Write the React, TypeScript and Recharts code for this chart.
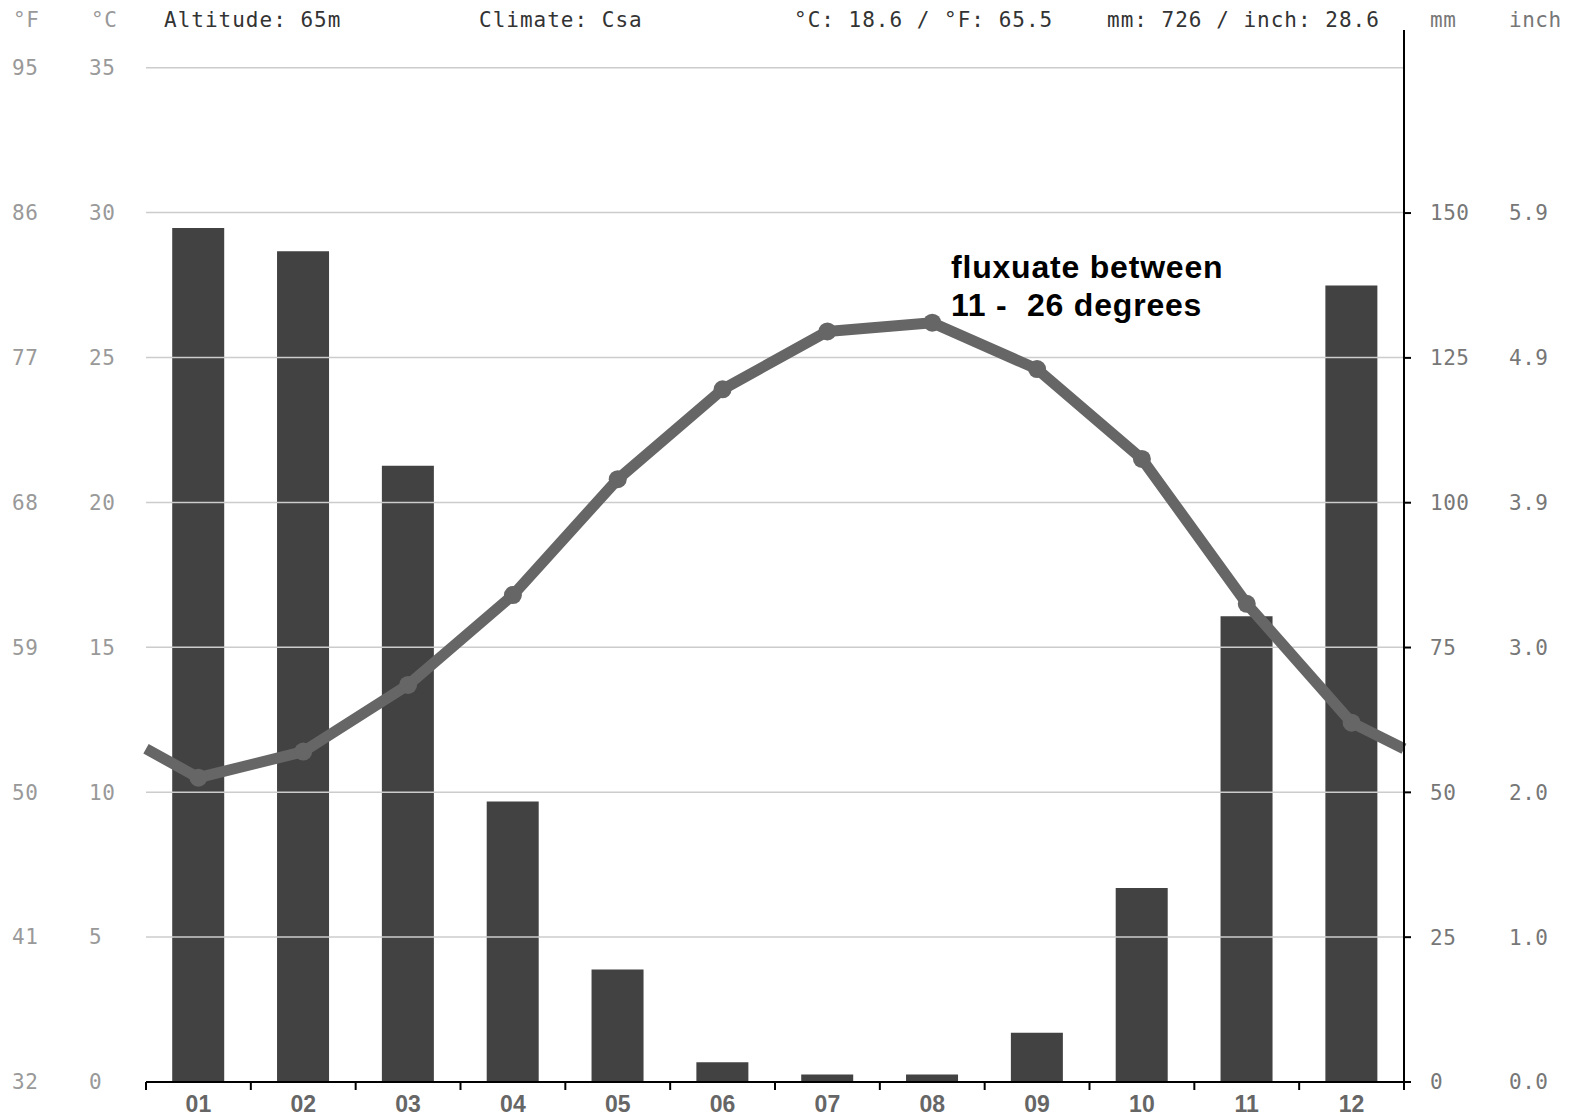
import { ComposedChart, Bar, Line, XAxis, YAxis, ReferenceLine } from 'recharts';

const months = ['01', '02', '03', '04', '05', '06', '07', '08', '09', '10', '11', '12'];
const precipMm = [147.4, 143.4, 106.4, 48.4, 19.4, 3.4, 1.3, 1.3, 8.5, 33.5, 80.4, 137.5];
const tempC = [10.5, 11.4, 13.7, 16.8, 20.8, 23.9, 25.9, 26.2, 24.6, 21.5, 16.5, 12.4];
// value where the line meets the chart edges (Dec -> Jan wrap)
const edgeTempC = 11.5;
const tempTicks = [0, 5, 10, 15, 20, 25, 30, 35];
const mmTicks = [0, 25, 50, 75, 100, 125, 150];

const data = [
  { x: 0.5, t: edgeTempC },
  ...months.map((m, i) => ({ x: i + 1, t: tempC[i], mm: precipMm[i], label: m })),
  { x: 12.5, t: edgeTempC },
];
const xTicks = months.flatMap((_, i) => [i + 0.5, i + 1]).concat(12.5);

const mono = '"DejaVu Sans Mono", monospace';

const XTick = ({ x, y, payload }: any) => {
  const v = payload.value;
  if (Number.isInteger(v)) {
    return (
      <text x={x} y={y + 30} textAnchor="middle" fontFamily="Liberation Sans, Arial" fontSize={23}
        fontWeight="bold" fill="#666">
        {months[v - 1]}
      </text>
    );
  }
  return <line x1={x} x2={x} y1={y} y2={y + 8} stroke="#000" strokeWidth={2} />;
};

const TempTick = ({ y, payload }: any) => (
  <g fontFamily={mono} fontSize={21} fill="#999" letterSpacing={0.5}>
    <text x={12} y={y} dy="0.35em">{Math.round(32 + (payload.value * 9) / 5)}</text>
    <text x={89} y={y} dy="0.35em">{payload.value}</text>
  </g>
);

const MmTick = ({ y, payload }: any) => (
  <g fontFamily={mono} fontSize={21} fill="#777" letterSpacing={0.5}>
    <text x={1430} y={y} dy="0.35em">{payload.value}</text>
    <text x={1509} y={y} dy="0.35em">{(payload.value / 25.4).toFixed(1)}</text>
  </g>
);

const TempDot = ({ cx, cy, payload, index }: any) =>
  Number.isInteger(payload.x) ? (
    <circle key={index} cx={cx} cy={cy} r={9} fill="#666" />
  ) : (
    <g key={index} />
  );

export default function App() {
  return (
    <div style={{ position: 'absolute', left: 0, top: 0, width: 1576, height: 1118, background: '#fff' }}>
      <ComposedChart width={1576} height={1118} data={data} margin={{ top: 30, right: 0, bottom: 0, left: 0 }}>
        <XAxis
          type="number"
          dataKey="x"
          domain={[0.5, 12.5]}
          ticks={xTicks}
          interval={0}
          tickLine={false}
          tickSize={0}
          tickMargin={0}
          height={36}
          axisLine={{ stroke: '#000', strokeWidth: 2 }}
          tick={<XTick />}
        />
        <YAxis
          yAxisId="t"
          orientation="left"
          width={146}
          domain={[0, 36.3]}
          ticks={tempTicks}
          axisLine={false}
          tickLine={false}
          tick={<TempTick />}
        />
        <YAxis
          yAxisId="mm"
          orientation="right"
          width={172}
          domain={[0, 181.6]}
          ticks={mmTicks}
          axisLine={{ stroke: '#000', strokeWidth: 2 }}
          tickLine={{ stroke: '#000', strokeWidth: 2 }}
          tickSize={7}
          tick={<MmTick />}
        />
        {tempTicks.slice(1).map((v) => (
          <ReferenceLine key={v} yAxisId="t" y={v} stroke="#ccc" strokeWidth={1.5} />
        ))}
        <Bar yAxisId="mm" dataKey="mm" fill="#424242" barSize={52} isAnimationActive={false} />
        <Line
          yAxisId="t"
          dataKey="t"
          type="linear"
          stroke="#666"
          strokeWidth={11}
          strokeLinejoin="round"
          dot={TempDot}
          activeDot={false}
          isAnimationActive={false}
        />
      </ComposedChart>
      <svg width={1576} height={1118} style={{ position: 'absolute', left: 0, top: 0, pointerEvents: 'none' }}>
        <g fontFamily={mono} fontSize={21} letterSpacing={0.5}>
          <text x={13} y={27} fill="#999">°F</text>
          <text x={91} y={27} fill="#999">°C</text>
          <text x={1430} y={27} fill="#777">mm</text>
          <text x={1509} y={27} fill="#777">inch</text>
        </g>
        <g fontFamily={mono} fontSize={21} letterSpacing={1} fill="#333">
          <text x={164} y={27}>Altitude: 65m</text>
          <text x={479} y={27}>Climate: Csa</text>
          <text x={794} y={27}>°C: 18.6 / °F: 65.5</text>
          <text x={1107} y={27}>mm: 726 / inch: 28.6</text>
        </g>
        <g fontFamily="Liberation Sans, Arial" fontSize={32} fontWeight="bold" fill="#000" letterSpacing={0.8}>
          <text x={951} y={278}>fluxuate between</text>
          <text x={951} y={316}>{'11 -\u00A0\u00A026 degrees'}</text>
        </g>
      </svg>
    </div>
  );
}
